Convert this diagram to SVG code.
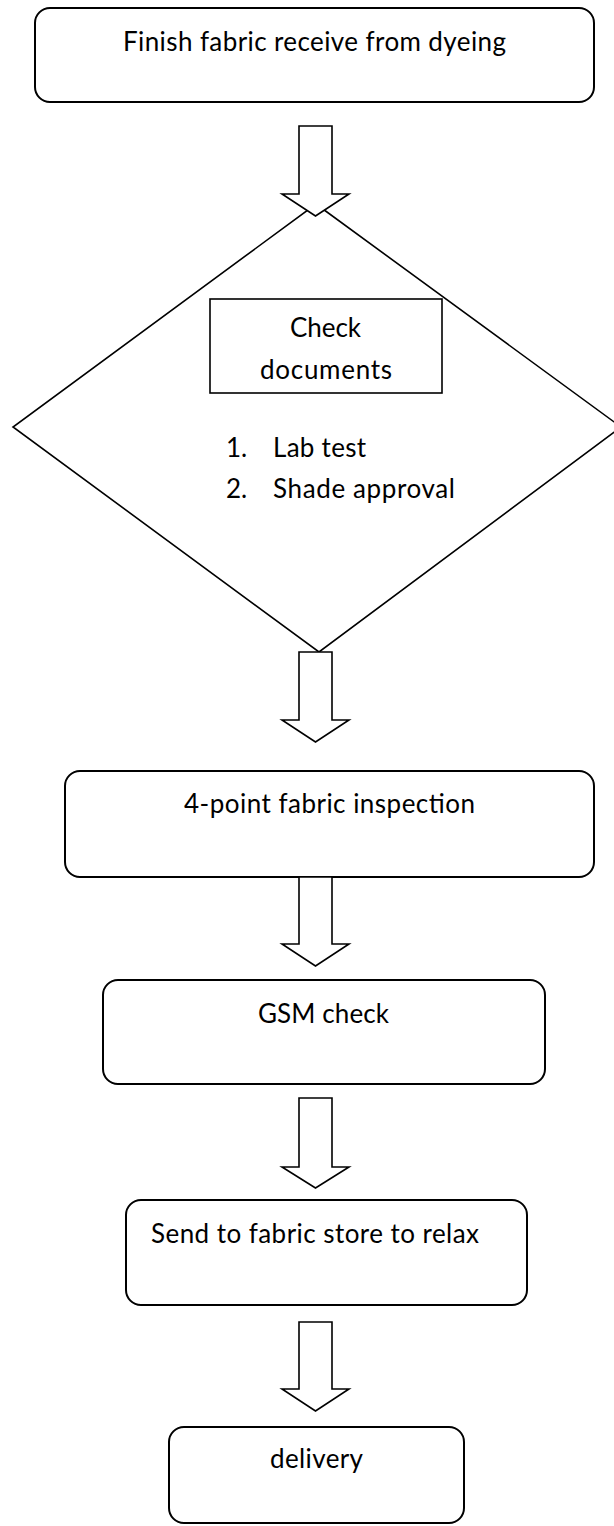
<svg xmlns="http://www.w3.org/2000/svg" width="614" height="1526" viewBox="0 0 614 1526">
<style>
  .box{fill:#fff;stroke:#000;stroke-width:2}
  .shape{fill:#fff;stroke:#000;stroke-width:1.6}
  .arrow{fill:#fff;stroke:#000;stroke-width:1.6;stroke-linejoin:miter}
  text{font-family:Lato,"Liberation Sans",sans-serif;font-size:26px;fill:#000}
</style>
<rect width="614" height="1526" fill="#fff"/>
<g id="nodes">
  <g id="receive">
    <rect class="box" x="35" y="8" width="559" height="94" rx="15" ry="15"/>
    <text x="123" y="51" textLength="383">Finish fabric receive from dyeing</text>
  </g>
  <g id="check">
    <polygon class="shape" points="316,204 621,427 319,652 13,427"/>
    <rect class="shape" x="210" y="299" width="232" height="94"/>
    <text x="290" y="337" textLength="71">Check</text>
    <text x="260" y="379" textLength="132">documents</text>
    <text x="226" y="457">1.</text>
    <text x="273" y="457" textLength="93">Lab test</text>
    <text x="226" y="498">2.</text>
    <text x="273" y="498" textLength="182">Shade approval</text>
  </g>
  <g id="inspection">
    <rect class="box" x="65" y="771" width="529" height="106" rx="15" ry="15"/>
    <text x="184" y="813" textLength="291">4-point fabric inspection</text>
  </g>
  <g id="gsm">
    <rect class="box" x="103" y="980" width="442" height="104" rx="15" ry="15"/>
    <text x="258" y="1023" textLength="131">GSM check</text>
  </g>
  <g id="store">
    <rect class="box" x="126" y="1200" width="401" height="105" rx="15" ry="15"/>
    <text x="151" y="1243" textLength="328">Send to fabric store to relax</text>
  </g>
  <g id="delivery">
    <rect class="box" x="169" y="1427" width="295" height="96" rx="15" ry="15"/>
    <text x="270" y="1468" textLength="93">delivery</text>
  </g>
</g>
<g id="connectors">
  <polygon class="arrow" points="299,126 332,126 332,194 349,194 315.5,216 282,194 299,194"/>
  <polygon class="arrow" points="299,652 332,652 332,720 349,720 315.5,742 282,720 299,720"/>
  <polygon class="arrow" points="299,877 332,877 332,944 349,944 315.5,966 282,944 299,944"/>
  <polygon class="arrow" points="299,1098 332,1098 332,1167 349,1167 315.5,1188 282,1167 299,1167"/>
  <polygon class="arrow" points="299,1322 332,1322 332,1389 349,1389 315.5,1411 282,1389 299,1389"/>
</g>
</svg>
